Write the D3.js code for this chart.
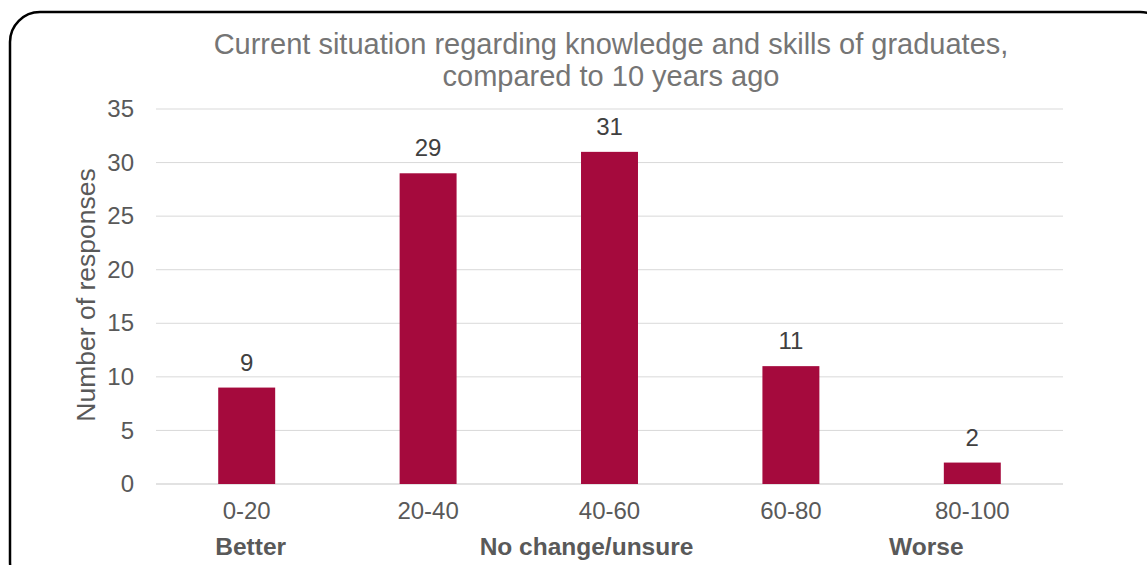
<!DOCTYPE html>
<html>
<head>
  <meta charset="utf-8">
  <title>Knowledge and skills of graduates</title>
  <style>
    body { margin: 0; background: #fff; }
    text { font-family: "Liberation Sans", Arial, sans-serif; }
  </style>
</head>
<body>
  <svg width="1147" height="565"></svg>
  <script src="https://d3js.org/d3.v7.min.js"></script>
  <script>

  // data
  var categories = ["0-20", "20-40", "40-60", "60-80", "80-100"];
  var responses = [9, 29, 31, 11, 2];
  var yTicks = [0, 5, 10, 15, 20, 25, 30, 35];
  var groupLabels = ["Better", "No change/unsure", "Worse"];
  var groupAt = ["0-20", "40-60", "80-100"]; // category each group label sits under

  var svg = d3.select("svg");
  var margin = { left: 156, right: 84, top: 109, bottom: 81 };
  var width = 1147, height = 565;

  // rounded frame (runs off the right and bottom edges)
  svg.append("rect")
    .attr("x", 10).attr("y", 12)
    .attr("width", 1160).attr("height", 580)
    .attr("rx", 30).attr("ry", 30)
    .attr("fill", "none")
    .attr("stroke", "#000")
    .attr("stroke-width", 2.5);

  var x = d3.scaleBand()
    .domain(categories)
    .range([margin.left, width - margin.right])
    .paddingInner(0.686)
    .paddingOuter(0.343);

  var y = d3.scaleLinear()
    .domain([0, 35])
    .range([height - margin.bottom, margin.top]);

  // gridlines
  svg.append("g")
    .selectAll("line")
    .data(yTicks)
    .enter()
    .append("line")
    .attr("x1", margin.left).attr("x2", width - margin.right)
    .attr("y1", function(d) { return y(d); })
    .attr("y2", function(d) { return y(d); })
    .attr("stroke", "#d9d9d9")
    .attr("stroke-width", function(d) { return d === 0 ? 1.5 : 1; });

  // y axis labels
  var yAxis = d3.axisLeft(y).tickValues(yTicks).tickSize(0).tickPadding(22);
  var gy = svg.append("g")
    .attr("transform", "translate(" + margin.left + ",0)")
    .call(yAxis);
  gy.select(".domain").remove();
  gy.selectAll("text")
    .attr("font-size", 24)
    .attr("fill", "#595959")
    .style("font-family", "Liberation Sans, Arial, sans-serif");

  // x axis labels
  var xAxis = d3.axisBottom(x).tickSize(0).tickPadding(18);
  var gx = svg.append("g")
    .attr("transform", "translate(0," + y(0) + ")")
    .call(xAxis);
  gx.select(".domain").remove();
  gx.selectAll("text")
    .attr("font-size", 24)
    .attr("fill", "#595959")
    .style("font-family", "Liberation Sans, Arial, sans-serif");

  // bars
  svg.append("g")
    .selectAll("rect")
    .data(responses)
    .enter()
    .append("rect")
    .attr("x", function(d, i) { return x(categories[i]); })
    .attr("y", function(d) { return y(d); })
    .attr("width", x.bandwidth())
    .attr("height", function(d) { return y(0) - y(d); })
    .attr("fill", "#a50a3d");

  // value labels
  svg.append("g")
    .selectAll("text")
    .data(responses)
    .enter()
    .append("text")
    .attr("x", function(d, i) { return x(categories[i]) + x.bandwidth() / 2; })
    .attr("y", function(d) { return y(d) - 17; })
    .attr("text-anchor", "middle")
    .attr("font-size", 24)
    .attr("fill", "#404040")
    .text(function(d) { return d; });

  // group labels under axis
  svg.append("g")
    .selectAll("text")
    .data(groupLabels)
    .enter()
    .append("text")
    .attr("x", function(d, i) { return x(groupAt[i]) + x.bandwidth() / 2 + (i === 1 ? -23 : (i === 2 ? -46 : 4)); })
    .attr("y", 555)
    .attr("text-anchor", "middle")
    .attr("font-size", 24.5)
    .attr("font-weight", "bold")
    .attr("fill", "#595959")
    .text(function(d) { return d; });

  // title
  var title = svg.append("text")
    .attr("x", 611)
    .attr("text-anchor", "middle")
    .attr("font-size", 29)
    .attr("fill", "#757575");
  title.append("tspan").attr("x", 611).attr("y", 54)
    .text("Current situation regarding knowledge and skills of graduates,");
  title.append("tspan").attr("x", 611).attr("y", 86)
    .text("compared to 10 years ago");

  // y axis title
  svg.append("text")
    .attr("transform", "translate(95,295) rotate(-90)")
    .attr("text-anchor", "middle")
    .attr("font-size", 26.5)
    .attr("fill", "#595959")
    .text("Number of responses");

  </script>
</body>
</html>
